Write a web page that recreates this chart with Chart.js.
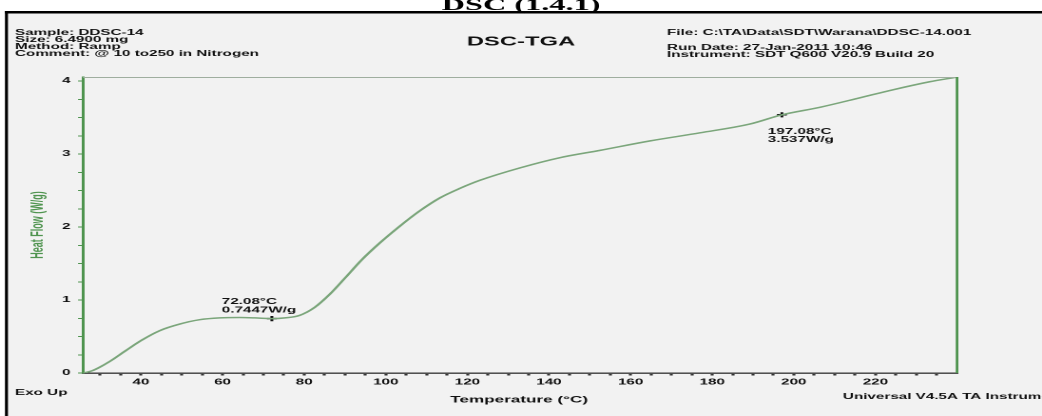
<!DOCTYPE html>
<html>
<head>
<meta charset="utf-8">
<script src="https://cdn.jsdelivr.net/npm/chart.js@4.4.1/dist/chart.umd.min.js"></script>
<style>
  html, body { margin: 0; padding: 0; background: #fff; overflow: hidden; width: 1042px; height: 416px; }
  /* the sheet is laid out narrow and widened to the page width */
  #sheet { position: absolute; left: 0; top: 0; width: 548px; height: 416px; transform: scaleX(1.9015); transform-origin: 0 0; }
  canvas { display: block; }
</style>
</head>
<body>
<div id="sheet"><canvas id="dsc" width="548" height="416"></canvas></div>
<script>
// Heat flow trace: temperature (°C) and heat flow (W/g)
const tempC = [26.0, 28.0, 29.9, 32.4, 36.1, 40.2, 44.6, 49.5, 54.4, 59.3, 64.2, 67.9, 72.08, 75.3, 78.9,
               82.6, 86.3, 90.0, 94.1, 98.5, 103.4, 108.3, 113.3, 118.2, 123.1, 132.9, 142.7, 152.5,
               164.8, 177.0, 189.2, 197.08, 206.4, 216.2, 224.3, 233.3, 239.5];
const heatFlow = [0.00, 0.03, 0.08, 0.16, 0.30, 0.45, 0.58, 0.67, 0.73, 0.755, 0.76, 0.755, 0.7447, 0.755, 0.79,
                  0.90, 1.08, 1.30, 1.55, 1.78, 2.01, 2.22, 2.40, 2.53, 2.64, 2.81, 2.95, 3.05,
                  3.18, 3.29, 3.41, 3.537, 3.64, 3.77, 3.88, 3.99, 4.05];

// Analysed points and their readouts
const markTemp = [72.08, 197.08];
const markFlow = [0.7447, 3.537];
const markText = [["72.08°C", "0.7447W/g"], ["197.08°C", "3.537W/g"]];

// Axis labels
const xTickLabels = [40, 60, 80, 100, 120, 140, 160, 180, 200, 220];
const yTickLabels = [0, 1, 2, 3, 4];

// Run information
const headerLeft = ["Sample: DDSC-14", "Size: 6.4900 mg", "Method: Ramp", "Comment: @ 10 to250 in Nitrogen"];
const headerRight = ["File: C:\\TA\\Data\\SDT\\Warana\\DDSC-14.001", "Run Date: 27-Jan-2011 10:46", "Instrument: SDT Q600 V20.9 Build 20"];
const plotTitle = "DSC-TGA";
const docTitle = "DSC (1.4.1)";

const SX = 1042 / 548;           // horizontal widening of the sheet
const W = 548, H = 416;
const SANS = "'Liberation Sans', Arial, sans-serif";
const SERIF = "'Liberation Serif', 'Times New Roman', serif";
const GREEN = '#4f944f';
const TRACE = '#7ba67b';

const xMinor = [];
for (let v = 30; v <= 235; v += 5) xMinor.push(v);
const yMinor = [];
yTickLabels.forEach(m => { for (let k = 0; k < 4; k++) { const v = m + k * 0.25; if (v <= 4.0) yMinor.push(v); } });

function txt(ctx, s, x, y, size, opts = {}) {
  ctx.save();
  ctx.font = `${opts.weight || 'bold'} ${size}px ${opts.family || SANS}`;
  ctx.fillStyle = opts.color || '#111';
  ctx.textAlign = opts.align || 'left';
  ctx.textBaseline = opts.baseline || 'middle';
  ctx.fillText(s, x, y);
  ctx.restore();
}

const sheetPlugin = {
  id: 'sheet',
  beforeDraw(chart) {
    const ctx = chart.ctx;
    ctx.save();
    ctx.fillStyle = '#fff';
    ctx.fillRect(0, 0, W, H);
    // framed panel
    ctx.fillStyle = '#f2f2f2';
    ctx.fillRect(4.2, 13.5, W, H);
    ctx.fillStyle = '#000';
    ctx.fillRect(2.6, 11, W, 2.5);
    ctx.fillRect(2.6, 11, 1.6, H);
    ctx.restore();

    txt(ctx, docTitle, 274, 10, 17, { family: SERIF, align: 'center', baseline: 'alphabetic', color: '#000' });
    headerLeft.forEach((s, i) => txt(ctx, s, 7.9, 33 + i * 7, 8));
    const rightRows = [33, 48, 55];
    headerRight.forEach((s, i) => txt(ctx, s, 350.8, rightRows[i], 8));
    txt(ctx, plotTitle, 274, 42, 12.5, { align: 'center' });

    txt(ctx, 'Exo Up', 7.9, 393, 8);
    txt(ctx, 'Temperature (°C)', 273, 400, 9, { align: 'center' });
    txt(ctx, 'Universal V4.5A TA Instruments', 443.3, 397, 8);

    ctx.save();
    ctx.translate(20, 225);
    ctx.rotate(-Math.PI / 2);
    txt(ctx, 'Heat Flow (W/g)', 0, 0, 9, { align: 'center', color: GREEN });
    ctx.restore();
  },
  afterDatasetsDraw(chart) {
    const ctx = chart.ctx, a = chart.chartArea;
    ctx.save();
    ctx.strokeStyle = '#9fae9f';
    ctx.lineWidth = 1;
    ctx.beginPath();
    ctx.moveTo(a.left, a.top + 0.5);
    ctx.lineTo(a.right, a.top + 0.5);
    ctx.stroke();
    ctx.strokeStyle = GREEN;
    ctx.lineWidth = 1.4;
    ctx.beginPath();
    ctx.moveTo(a.right, a.top);
    ctx.lineTo(a.right, a.bottom);
    ctx.stroke();
    ctx.restore();

    const xs = chart.scales.x, ys = chart.scales.y;
    const offs = [
      { dx: -26.3, rows: [-17, -8.5] },
      { dx: -7.4, rows: [17, 25] }
    ];
    markTemp.forEach((t, i) => {
      const px = xs.getPixelForValue(t), py = ys.getPixelForValue(markFlow[i]);
      markText[i].forEach((s, r) => txt(ctx, s, px + offs[i].dx, py + offs[i].rows[r], 8));
    });
  }
};

new Chart(document.getElementById('dsc'), {
  type: 'line',
  data: {
    datasets: [
      {
        data: tempC.map((t, i) => ({ x: t, y: heatFlow[i] })),
        borderColor: TRACE,
        borderWidth: 1.5,
        pointRadius: 0,
        cubicInterpolationMode: 'monotone',
        fill: false
      },
      {
        data: markTemp.map((t, i) => ({ x: t, y: markFlow[i] })),
        showLine: false,
        pointStyle: 'cross',
        pointRadius: 2.6,
        borderColor: '#111',
        borderWidth: 1.5
      }
    ]
  },
  options: {
    responsive: false,
    devicePixelRatio: 2,
    animation: false,
    events: [],
    layout: { padding: { left: 0, right: W - 957 / SX, top: 77, bottom: 0 } },
    plugins: { legend: { display: false }, tooltip: { enabled: false }, title: { display: false } },
    scales: {
      x: {
        type: 'linear', min: 25.8, max: 240.0,
        afterFit(s) { s.height = H - 373; },
        afterBuildTicks(s) { s.ticks = xMinor.map(v => ({ value: v })); },
        ticks: {
          autoSkip: false, maxRotation: 0, padding: 2, color: '#111',
          font: { family: SANS, size: 8, weight: 'bold' },
          callback: v => xTickLabels.includes(v) ? String(v) : ''
        },
        grid: { drawOnChartArea: false, drawTicks: true, tickLength: 2.5, tickWidth: 1.6, tickColor: '#333' },
        border: { display: true, color: '#3a3a3a', width: 1.4 }
      },
      y: {
        type: 'linear', min: 0, max: 4.055,
        afterFit(s) { s.width = 83 / SX; },
        afterBuildTicks(s) { s.ticks = yMinor.map(v => ({ value: v })); },
        ticks: {
          autoSkip: false, padding: 4, color: '#111',
          font: { family: SANS, size: 8, weight: 'bold' },
          callback: v => yTickLabels.includes(v) ? String(v) : ''
        },
        grid: { drawOnChartArea: false, drawTicks: true, tickLength: 2.6, tickWidth: 1, tickColor: GREEN },
        border: { display: true, color: GREEN, width: 1.5 }
      }
    }
  },
  plugins: [sheetPlugin]
});
</script>
</body>
</html>
